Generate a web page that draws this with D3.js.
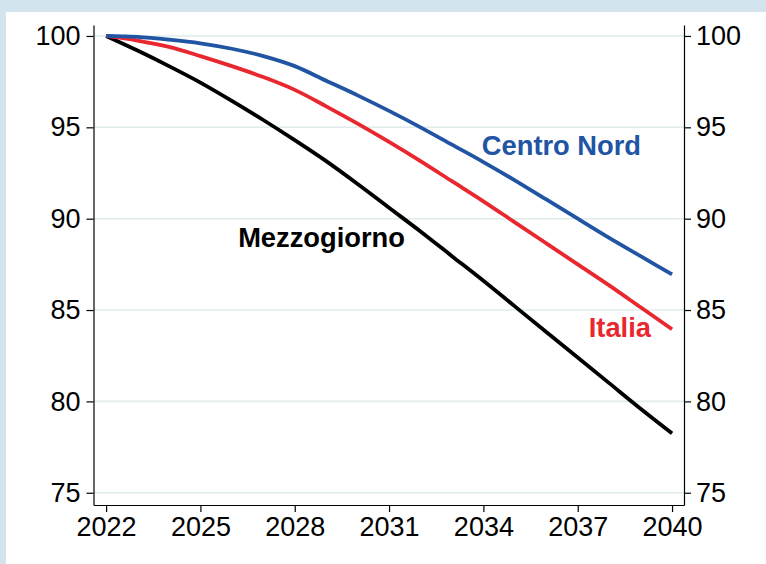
<!DOCTYPE html>
<html><head><meta charset="utf-8">
<script src="https://cdn.jsdelivr.net/npm/d3@7"></script>
<style>body{margin:0;background:#d4e4ee;}svg{display:block;}</style>
</head><body>
<script>
const years = [2022,2023,2024,2025,2026,2027,2028,2029,2030,2031,2032,2033,2034,2035,2036,2037,2038,2039,2040];
const centroNord = [100,99.95,99.8,99.6,99.3,98.9,98.35,97.55,96.75,95.9,95.0,94.05,93.1,92.1,91.05,90.0,88.95,87.95,86.95];
const italia = [100,99.75,99.4,98.9,98.35,97.75,97.05,96.15,95.2,94.2,93.15,92.05,90.95,89.8,88.65,87.5,86.35,85.15,83.95];
const mezzogiorno = [100,99.2,98.35,97.45,96.45,95.4,94.3,93.15,91.9,90.6,89.3,87.95,86.6,85.2,83.8,82.4,81.0,79.6,78.25];
const xTicks = [2022,2025,2028,2031,2034,2037,2040];
const yTicks = [75,80,85,90,95,100];
const seriesNames = ["Centro Nord","Italia","Mezzogiorno"];
const seriesColors = ["#2155a3","#e8282e","#000000"];

const W=766,H=564;
const svg=d3.select("body").append("svg").attr("width",W).attr("height",H);
svg.append("rect").attr("width",W).attr("height",H).attr("fill","#d4e4ee");
svg.append("rect").attr("x",6).attr("y",12).attr("width",W-6).attr("height",H-12).attr("fill","#fff");

const L=93.5,R=684,T=25,B=505;
const x=d3.scaleLinear().domain([2021.6,2040.38]).range([L,R]);
const y=d3.scaleLinear().domain([74.33,100.6]).range([B,T]);

// gridlines
svg.append("g").selectAll("line").data(yTicks).join("line")
  .attr("x1",L).attr("x2",R).attr("y1",d=>y(d)).attr("y2",d=>y(d))
  .attr("stroke","#dfecec").attr("stroke-width",1.6);

const font="Liberation Sans, Arial, sans-serif";
function styleAxis(g){
  g.selectAll("path").attr("stroke","#000").attr("stroke-width",1.2);
  g.selectAll(".tick line").attr("stroke","#000").attr("stroke-width",1.2);
  g.selectAll("text").attr("font-family",font).attr("font-size","27px").attr("fill","#000");
}
const ax=svg.append("g").attr("transform",`translate(0,${B})`)
  .call(d3.axisBottom(x).tickValues(xTicks).tickFormat(d3.format("d")).tickSize(7).tickSizeOuter(0).tickPadding(5));
styleAxis(ax);
const ayl=svg.append("g").attr("transform",`translate(${L},0)`)
  .call(d3.axisLeft(y).tickValues(yTicks).tickSize(7).tickSizeOuter(0).tickPadding(6));
styleAxis(ayl);
const ayr=svg.append("g").attr("transform",`translate(${R},0)`)
  .call(d3.axisRight(y).tickValues(yTicks).tickSize(7).tickSizeOuter(0).tickPadding(5));
styleAxis(ayr);

const data=[centroNord,italia,mezzogiorno];
const line=d3.line().x((d,i)=>x(years[i])).y(d=>y(d)).curve(d3.curveMonotoneX);
[2,1,0].forEach(k=>{
  svg.append("path").attr("d",line(data[k])).attr("fill","none")
    .attr("stroke",seriesColors[k]).attr("stroke-width",3.8).attr("stroke-linejoin","round");
});

// labels
const labels=[
  {k:0,yr:2033.95,v:93.49},
  {k:1,yr:2037.35,v:83.51},
  {k:2,yr:2026.2,v:88.47}
];
labels.forEach(l=>{
  svg.append("text").attr("x",x(l.yr)).attr("y",y(l.v))
    .attr("font-family",font).attr("font-weight","bold").attr("font-size","27.3px")
    .attr("fill",seriesColors[l.k]).text(seriesNames[l.k]);
});
</script>
</body></html>
